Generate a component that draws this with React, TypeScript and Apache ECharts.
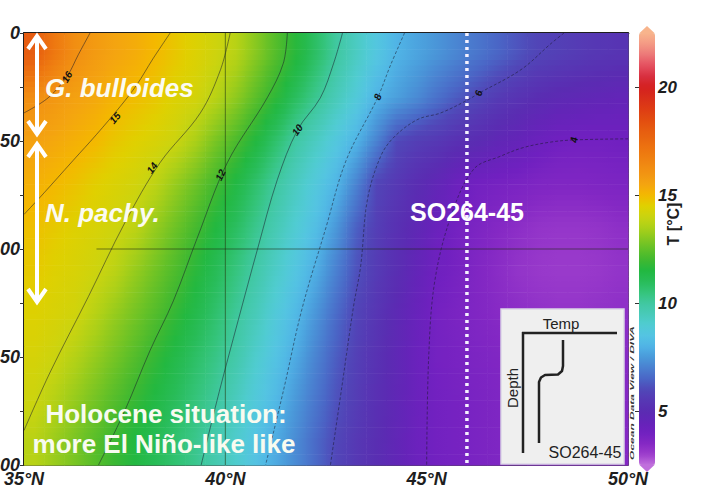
import React, { useEffect, useRef } from 'react';
import * as echarts from 'echarts';

// ---- grid of the temperature section (cell centres) ----
const LATS = [35.25, 35.75, 36.25, 36.75, 37.25, 37.75, 38.25, 38.75, 39.25, 39.75, 40.25, 40.75, 41.25, 41.75, 42.25, 42.75, 43.25, 43.75, 44.25, 44.75, 45.25, 45.75, 46.25, 46.75, 47.25, 47.75, 48.25, 48.75, 49.25, 49.75];
const DEPTHS = [10, 30, 50, 70, 90, 110, 130, 150, 170, 190];
const LAT_STEP = 0.5;
const DEPTH_STEP = 20;

// temperature (°C) per depth row, one value per latitude column
const T_D10 = [18.0, 17.0, 16.2, 15.8, 15.5, 15.3, 15.0, 14.7, 14.4, 14.1, 13.7, 13.0, 12.3, 11.6, 10.8, 10.0, 9.3, 8.6, 8.0, 7.7, 7.4, 7.1, 6.8, 6.5, 6.2, 5.9, 5.75, 5.6, 5.45, 5.35];
const T_D30 = [16.2, 15.9, 15.6, 15.4, 15.1, 14.9, 14.7, 14.4, 14.2, 13.7, 13.1, 12.4, 11.7, 10.9, 10.2, 9.5, 8.8, 8.0, 7.6, 7.2, 6.7, 6.3, 5.95, 5.6, 5.3, 5.05, 4.85, 4.75, 4.65, 4.55];
const T_D50 = [15.6, 15.4, 15.2, 15.0, 14.7, 14.5, 14.3, 14.05, 13.5, 12.8, 12.2, 11.5, 10.7, 9.9, 9.3, 8.65, 8.0, 7.05, 6.0, 5.7, 5.5, 5.2, 5.0, 4.7, 4.5, 4.2, 4.0, 3.95, 3.95, 4.0];
const T_D70 = [15.2, 15.0, 14.8, 14.55, 14.35, 14.15, 13.8, 13.2, 12.65, 12.05, 11.4, 10.7, 10.0, 9.35, 8.7, 8.05, 7.05, 5.9, 5.5, 5.05, 4.65, 4.2, 3.95, 3.85, 3.75, 3.65, 3.6, 3.6, 3.65, 3.7];
const T_D90 = [14.85, 14.65, 14.45, 14.3, 14.1, 13.8, 13.2, 12.65, 12.1, 11.5, 10.9, 10.25, 9.6, 8.95, 8.3, 7.45, 6.4, 5.7, 5.2, 4.75, 4.25, 3.9, 3.7, 3.5, 3.35, 3.2, 3.15, 3.15, 3.2, 3.3];
const T_D110 = [14.65, 14.45, 14.3, 14.1, 13.75, 13.2, 12.7, 12.2, 11.65, 11.05, 10.45, 9.85, 9.2, 8.55, 7.85, 7.0, 6.15, 5.6, 5.1, 4.55, 4.05, 3.85, 3.6, 3.4, 3.2, 3.1, 3.05, 3.05, 3.1, 3.2];
const T_D130 = [14.45, 14.3, 14.15, 13.7, 13.2, 12.75, 12.3, 11.8, 11.25, 10.7, 10.1, 9.5, 8.8, 8.15, 7.4, 6.6, 5.9, 5.4, 4.85, 4.35, 3.9, 3.75, 3.6, 3.45, 3.35, 3.25, 3.2, 3.2, 3.25, 3.3];
const T_D150 = [14.25, 14.05, 13.65, 13.2, 12.75, 12.3, 11.8, 11.3, 10.8, 10.35, 9.8, 9.1, 8.45, 7.8, 7.05, 6.35, 5.75, 5.25, 4.75, 4.25, 3.9, 3.8, 3.7, 3.6, 3.5, 3.45, 3.4, 3.4, 3.4, 3.45];
const T_D170 = [14.05, 13.65, 13.2, 12.75, 12.3, 11.85, 11.4, 10.95, 10.5, 10.05, 9.4, 8.75, 8.15, 7.45, 6.8, 6.15, 5.65, 5.15, 4.7, 4.25, 3.95, 3.85, 3.75, 3.65, 3.55, 3.5, 3.45, 3.45, 3.45, 3.5];
const T_D190 = [13.7, 13.25, 12.8, 12.35, 11.9, 11.45, 11.05, 10.65, 10.25, 9.7, 9.1, 8.45, 7.8, 7.2, 6.55, 5.95, 5.5, 5.1, 4.65, 4.2, 3.95, 3.85, 3.75, 3.65, 3.55, 3.5, 3.45, 3.45, 3.45, 3.5];
const T_ROWS = [T_D10, T_D30, T_D50, T_D70, T_D90, T_D110, T_D130, T_D150, T_D170, T_D190];

// ---- isotherms: [latitude °N, depth m] ----
const C16 = [[36.64, 0], [36.35, 10], [36.07, 20], [35.6, 30], [35.0, 37]];
const C15 = [[38.63, 0], [38.2, 12], [37.8, 24], [37.39, 34], [36.8, 47], [36.22, 59], [35.45, 75], [35.0, 84]];
const C14 = [[40.12, 0], [39.88, 17], [39.38, 37], [38.38, 60], [37.5, 88], [36.6, 122], [35.65, 157], [35.0, 184]];
const C12 = [[41.54, 0], [41.44, 14], [41.04, 30], [40.05, 60], [39.3, 95], [38.71, 124], [38.13, 147], [37.5, 175], [36.85, 200]];
const C10 = [[42.91, 0], [42.69, 14], [42.36, 30], [41.79, 45], [41.29, 68], [40.8, 100], [40.32, 133], [39.85, 166], [39.4, 200]];
const C8 = [[44.45, 0], [44.1, 15], [43.78, 30], [43.0, 59], [42.5, 90], [41.9, 128], [41.45, 165], [41.0, 200]];
const C6 = [[48.41, 0], [48.08, 5], [47.34, 17], [46.29, 28], [46.02, 31], [45.35, 37], [44.78, 40], [44.2, 48], [43.86, 57], [43.53, 77], [43.36, 108], [43.18, 127], [42.9, 163], [42.61, 200]];
const C4 = [[50.0, 49], [48.66, 49.5], [48.08, 50.5], [47.41, 53], [46.84, 57], [46.17, 63], [45.6, 85], [45.2, 115], [45.05, 150], [45.0, 200]];
const ISOTHERMS = [C16, C15, C14, C12, C10, C8, C6, C4];
const ISO_DASHED = [false, false, false, false, false, true, true, true];

// contour labels: text, latitude, depth
const ISO_LABEL_TEXT = ['16', '15', '14', '12', '10', '8', '6', '4'];
const ISO_LABEL_LAT = [36.07, 37.26, 38.18, 39.88, 41.79, 43.78, 46.29, 48.66];
const ISO_LABEL_DEPTH = [20.4, 39.4, 62.5, 65.7, 44.9, 29.6, 27.8, 49.5];
const ISO_LABEL_ROTATE = [60, 50, 55, 65, 55, 70, 75, 85];

// section grid lines
const LINE_40N = [[40, 0], [40, 200]];
const LINE_100M = [[36.8, 100], [50, 100]];
const CORE_LAT = 46.0;
const CORE_LINE = [[CORE_LAT, 0], [CORE_LAT, 200]];

// axes
const LAT_MIN = 35, LAT_MAX = 50;
const DEPTH_MIN = 0, DEPTH_MAX = 200;
const T_MIN = 2.5, T_MAX = 22.5;
const CBAR_TICKS = [5, 10, 15, 20];

// colour scale, 0.5 °C steps from 2.5 to 22.5
const PALETTE = [
  '#c070dc', '#9c3ccc', '#8428c4', '#7020c0', '#6424b8', '#5a2cb2', '#5638b4', '#5048b8',
  '#4a66c6', '#4a80d0', '#4a9ada', '#50b4e6', '#54c4e2', '#50ccd2', '#48cab8', '#40c8a0',
  '#34c47a', '#28bc58', '#22b840', '#40b830', '#62c028', '#88c820', '#acd018', '#cad410',
  '#e0d000', '#f4b800', '#f4a410', '#f29412', '#f08612', '#ee7810', '#ea6a10', '#e65c10',
  '#e24c10', '#de3c14', '#d82e1a', '#d42020', '#d83040', '#e45060', '#ec7878', '#f49a84', '#f8b48c'
];

const FONT = '"Liberation Sans", Arial, Helvetica, sans-serif';
const NX = LATS.length;
const NY = DEPTHS.length;

function tAt(j: number, i: number): number {
  const jj = Math.max(0, Math.min(NY - 1, j));
  const ii = Math.max(0, Math.min(NX - 1, i));
  return T_ROWS[jj][ii];
}

function colorOf(v: number): string {
  return echarts.color.lerp((v - T_MIN) / (T_MAX - T_MIN), PALETTE) as string;
}

export default function App() {
  const ref = useRef<HTMLDivElement>(null);

  useEffect(() => {
    if (!ref.current) return;
    const chart = echarts.init(ref.current, null, { renderer: 'svg' });

    const cells: number[][] = [];
    DEPTHS.forEach((d, j) => {
      LATS.forEach((lat, i) => {
        cells.push([lat, d, T_ROWS[j][i]]);
      });
    });

    const STRIPS = 8;

    const isoSeries = ISOTHERMS.map((pts, k) => ({
      type: 'line',
      xAxisIndex: 0,
      yAxisIndex: 0,
      data: pts,
      smooth: 0.35,
      symbol: 'none',
      silent: true,
      z: 3,
      lineStyle: {
        color: '#1a1a2a',
        width: 0.8,
        opacity: 0.65,
        type: ISO_DASHED[k] ? [3, 2] : 'solid',
      },
    }));

    const labelData = ISO_LABEL_TEXT.map((t, k) => ({
      name: t,
      value: [ISO_LABEL_LAT[k], ISO_LABEL_DEPTH[k]],
      label: { rotate: ISO_LABEL_ROTATE[k] },
    }));

    const option: any = {
      animation: false,
      backgroundColor: '#ffffff',
      grid: [
        { left: 24, top: 33, width: 604, height: 432, show: true, borderColor: '#111', borderWidth: 1.5, backgroundColor: 'transparent', outerBoundsMode: 'none', containLabel: false },
        { left: 639, top: 33, width: 16, height: 432, show: false, outerBoundsMode: 'none', containLabel: false },
      ],
      xAxis: [
        {
          type: 'value', gridIndex: 0, min: LAT_MIN, max: LAT_MAX, interval: 2.5,
          axisLine: { show: true, lineStyle: { color: '#111', width: 2.5 } },
          axisTick: { show: true, length: 4, lineStyle: { color: '#333', width: 1 } },
          splitLine: { show: false },
          axisLabel: {
            margin: 5, color: '#1e1e1e', fontSize: 18, fontWeight: 'bold', fontStyle: 'italic', fontFamily: FONT,
            formatter: (v: number) => (v % 5 === 0 ? `${v}°N` : ''),
          },
        },
        { type: 'value', gridIndex: 1, min: 0, max: 1, show: false },
      ],
      yAxis: [
        {
          type: 'value', gridIndex: 0, min: DEPTH_MIN, max: DEPTH_MAX, interval: 25, inverse: true,
          axisLine: { show: true, lineStyle: { color: '#111', width: 1.5 } },
          axisTick: { show: true, length: 4, lineStyle: { color: '#333', width: 1 } },
          splitLine: { show: false },
          axisLabel: {
            margin: 4, color: '#1e1e1e', fontSize: 18, fontWeight: 'bold', fontStyle: 'italic', fontFamily: FONT,
            formatter: (v: number) => (v % 50 === 0 ? `${v}` : ''),
          },
        },
        {
          type: 'value', gridIndex: 1, min: T_MIN, max: T_MAX, position: 'right',
          axisLine: { show: false },
          axisTick: { show: true, inside: true, length: 4, customValues: CBAR_TICKS, lineStyle: { color: '#333', width: 1 } },
          splitLine: { show: false },
          axisLabel: {
            margin: 3, color: '#1e1e1e', fontSize: 17, fontWeight: 'bold', fontStyle: 'italic', fontFamily: FONT,
            customValues: CBAR_TICKS,
          },
        },
        {
          type: 'value', gridIndex: 1, min: T_MIN, max: T_MAX, position: 'left',
          axisLine: { show: false },
          axisTick: { show: true, length: 4, customValues: CBAR_TICKS, lineStyle: { color: '#333', width: 1 } },
          splitLine: { show: false },
          axisLabel: { show: false },
        },
      ],
      visualMap: {
        type: 'continuous',
        seriesIndex: 0,
        dimension: 2,
        min: T_MIN,
        max: T_MAX,
        calculable: false,
        orient: 'vertical',
        left: 639,
        top: 33,
        itemWidth: 16,
        itemHeight: 432,
        padding: 0,
        text: null,
        showLabel: false,
        inRange: { color: PALETTE },
      },
      series: [
        {
          type: 'custom',
          xAxisIndex: 0,
          yAxisIndex: 0,
          dimensions: ['lat', 'depth', 'temp'],
          encode: { x: 0, y: 1 },
          data: cells,
          silent: true,
          z: 1,
          renderItem: (params: any, api: any) => {
            const idx = params.dataIndex;
            const j = Math.floor(idx / NX);
            const i = idx % NX;
            const lat = api.value(0);
            const d = api.value(1);
            const p0 = api.coord([lat - LAT_STEP / 2, d - DEPTH_STEP / 2]);
            const p1 = api.coord([lat + LAT_STEP / 2, d + DEPTH_STEP / 2]);
            const w = p1[0] - p0[0];
            const h = p1[1] - p0[1];
            const children: any[] = [];
            for (let k = 0; k < STRIPS; k++) {
              const t = (k + 0.5) / STRIPS - 0.5;
              const jn = t < 0 ? j - 1 : j + 1;
              const wt = Math.abs(t);
              const row = (ii: number) => (1 - wt) * tAt(j, ii) + wt * tAt(jn, ii);
              const vC = row(i);
              const vL = (row(i - 1) + vC) / 2;
              const vR = (row(i + 1) + vC) / 2;
              children.push({
                type: 'rect',
                shape: { x: p0[0], y: p0[1] + (k * h) / STRIPS, width: w + 0.6, height: h / STRIPS + 0.6 },
                style: {
                  fill: new echarts.graphic.LinearGradient(0, 0, 1, 0, [
                    { offset: 0, color: colorOf(vL) },
                    { offset: 0.5, color: colorOf(vC) },
                    { offset: 1, color: colorOf(vR) },
                  ]),
                },
              });
            }
            return { type: 'group', children };
          },
        },
        ...isoSeries,
        {
          type: 'line', data: LINE_40N, symbol: 'none', silent: true, z: 3,
          lineStyle: { color: '#22380e', width: 1, opacity: 0.6 },
        },
        {
          type: 'line', data: LINE_100M, symbol: 'none', silent: true, z: 3,
          lineStyle: { color: '#1c2410', width: 1.2, opacity: 0.55 },
        },
        {
          type: 'line', data: CORE_LINE, symbol: 'none', silent: true, z: 4,
          lineStyle: { color: '#f6f2ff', width: 3.5, type: [3, 4] },
        },
        {
          type: 'scatter',
          data: labelData,
          symbol: 'circle',
          symbolSize: 2,
          itemStyle: { color: 'rgba(0,0,0,0)' },
          silent: true,
          z: 6,
          labelLayout: { hideOverlap: false },
          label: {
            show: true,
            position: 'inside',
            formatter: (p: any) => p.name,
            color: '#111',
            opacity: 1,
            fontSize: 10,
            fontWeight: 'bold',
            fontStyle: 'italic',
            fontFamily: FONT,
          },
        },
      ],
      graphic: [
        // colour bar end caps
        { type: 'polygon', z: 100, shape: { points: [[639, 33.5], [647, 26], [655, 33.5]] }, style: { fill: PALETTE[PALETTE.length - 1] } },
        { type: 'polygon', z: 100, shape: { points: [[639, 464.5], [647, 472], [655, 464.5]] }, style: { fill: PALETTE[0] } },
        {
          type: 'text', z: 100, x: 673, y: 224, rotation: Math.PI / 2,
          style: { text: 'T [°C]', fill: '#1e1e1e', font: `bold 16px ${FONT}`, align: 'center', verticalAlign: 'middle' },
        },
        {
          type: 'text', z: 100, x: 632, y: 393, rotation: Math.PI / 2, scaleY: 0.5,
          style: { text: 'Ocean Data View / DIVA', fill: '#333', font: `italic bold 12px ${FONT}`, align: 'center', verticalAlign: 'middle' },
        },
        // foraminifera depth arrows
        { type: 'line', z: 100, shape: { x1: 37, y1: 37, x2: 37, y2: 133 }, style: { stroke: '#ffffff', lineWidth: 4 } },
        { type: 'polyline', z: 100, shape: { points: [[28, 49], [37, 36], [46, 49]] }, style: { stroke: '#ffffff', lineWidth: 4, fill: null } },
        { type: 'polyline', z: 100, shape: { points: [[28, 121], [37, 134], [46, 121]] }, style: { stroke: '#ffffff', lineWidth: 4, fill: null } },
        { type: 'line', z: 100, shape: { x1: 37, y1: 145, x2: 37, y2: 301 }, style: { stroke: '#ffffff', lineWidth: 4 } },
        { type: 'polyline', z: 100, shape: { points: [[28, 157], [37, 144], [46, 157]] }, style: { stroke: '#ffffff', lineWidth: 4, fill: null } },
        { type: 'polyline', z: 100, shape: { points: [[28, 289], [37, 302], [46, 289]] }, style: { stroke: '#ffffff', lineWidth: 4, fill: null } },
        {
          type: 'text', z: 100, x: 45, y: 88,
          style: { text: 'G. bulloides', fill: '#fbfbf2', font: `italic bold 26px ${FONT}`, align: 'left', verticalAlign: 'middle' },
        },
        {
          type: 'text', z: 100, x: 45, y: 213,
          style: { text: 'N. pachy.', fill: '#fbfbf2', font: `italic bold 26px ${FONT}`, align: 'left', verticalAlign: 'middle' },
        },
        {
          type: 'text', z: 100, x: 467, y: 212,
          style: { text: 'SO264-45', fill: '#ffffff', font: `bold 25px ${FONT}`, align: 'center', verticalAlign: 'middle' },
        },
        {
          type: 'text', z: 100, x: 166, y: 414,
          style: { text: 'Holocene situation:', fill: '#f8fbf0', font: `bold 26px ${FONT}`, align: 'center', verticalAlign: 'middle' },
        },
        {
          type: 'text', z: 100, x: 164, y: 444,
          style: { text: 'more El Niño-like like', fill: '#f8fbf0', font: `bold 26px ${FONT}`, align: 'center', verticalAlign: 'middle' },
        },
        // inset: schematic temperature profile
        { type: 'rect', z: 100, shape: { x: 501, y: 309, width: 123, height: 155 }, style: { fill: '#efefef', stroke: '#dcd6e6', lineWidth: 1.5 } },
        { type: 'line', z: 101, shape: { x1: 522, y1: 333, x2: 617, y2: 333 }, style: { stroke: '#222', lineWidth: 2.5 } },
        { type: 'line', z: 101, shape: { x1: 523, y1: 332, x2: 523, y2: 453 }, style: { stroke: '#222', lineWidth: 2.5 } },
        {
          type: 'polyline', z: 101,
          shape: { points: [[563, 340], [563, 366], [562, 371], [558, 374.5], [545, 375], [541, 377.5], [539, 382], [539, 443]] },
          style: { stroke: '#222', lineWidth: 2.5, fill: null, lineJoin: 'round' },
        },
        {
          type: 'text', z: 101, x: 561, y: 323,
          style: { text: 'Temp', fill: '#222', font: `15px ${FONT}`, align: 'center', verticalAlign: 'middle' },
        },
        {
          type: 'text', z: 101, x: 512, y: 388, rotation: Math.PI / 2,
          style: { text: 'Depth', fill: '#222', font: `15px ${FONT}`, align: 'center', verticalAlign: 'middle' },
        },
        {
          type: 'text', z: 101, x: 585, y: 452,
          style: { text: 'SO264-45', fill: '#222', font: `16px ${FONT}`, align: 'center', verticalAlign: 'middle' },
        },
      ],
    };

    chart.setOption(option);
    return () => chart.dispose();
  }, []);

  return (
    <div
      ref={ref}
      style={{ position: 'absolute', left: 0, top: 0, width: 713, height: 504, background: '#ffffff' }}
    />
  );
}
